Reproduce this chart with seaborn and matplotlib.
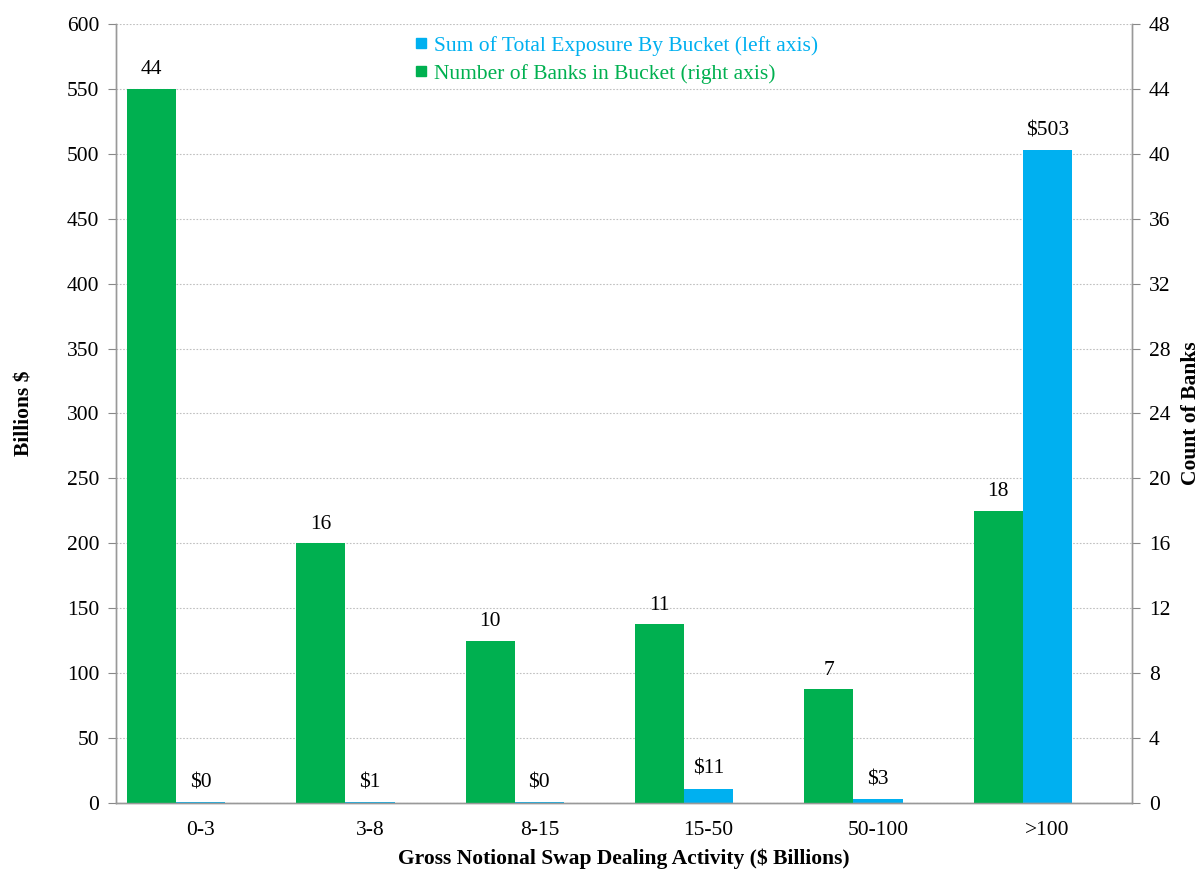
import numpy as np
import pandas as pd
import seaborn as sns
import matplotlib
matplotlib.use("Agg")
import matplotlib.pyplot as plt
from matplotlib.lines import Line2D

# data
buckets = ["0-3", "3-8", "8-15", "15-50", "50-100", ">100"]
exposure = [0.4, 0.7, 0.4, 11, 3, 503]          # $ billions, left axis
exposure_labels = ["$0", "$1", "$0", "$11", "$3", "$503"]
banks = [44, 16, 10, 11, 7, 18]                  # count, right axis

green = "#00B050"
blue = "#00B0F0"
series_order = ["banks", "exposure", "blank"]   # blank slot mimics the Excel layout
palette = {"banks": green, "exposure": blue, "blank": "white"}

sns.set_style("white")
plt.rcParams['font.family'] = ['Liberation Serif', 'DejaVu Serif']
plt.rcParams['font.size'] = 15.5
for k in ("text.color", "axes.labelcolor", "xtick.color", "ytick.color"):
    plt.rcParams[k] = "black"

fs = 15.5

fig = plt.figure(figsize=(12.02, 8.69), dpi=100)
ax1 = fig.add_axes([0.0965, 0.076, 0.8453, 0.8964])
ax2 = ax1.twinx()

df_exp = pd.DataFrame({"Bucket": buckets, "Series": "exposure", "Value": exposure})
df_banks = pd.DataFrame({"Bucket": buckets, "Series": "banks", "Value": banks})

common = dict(x="Bucket", y="Value", hue="Series", hue_order=series_order, order=buckets,
              palette=palette, width=0.87, gap=0, dodge=True, legend=False,
              saturation=1, errorbar=None, linewidth=0)
sns.barplot(data=df_exp, ax=ax1, **common)
sns.barplot(data=df_banks, ax=ax2, **common)


def full_container(ax):
    for c in ax.containers:
        if len(c) == len(buckets) and all(p is not None for p in c):
            return c


ax1.bar_label(full_container(ax1), labels=exposure_labels, padding=7, fontsize=fs)
ax2.bar_label(full_container(ax2), labels=[str(b) for b in banks], padding=7, fontsize=fs)

# axes
ax1.set_ylim(0, 600)
ax1.set_yticks(np.arange(0, 601, 50))
ax2.set_ylim(0, 48)
ax2.set_yticks(np.arange(0, 49, 4))
ax1.set_xlim(-0.5, 5.5)

ax1.yaxis.grid(True, color="#c0c0c0", linestyle=(0, (1.5, 1.5)), linewidth=0.8)
ax1.set_axisbelow(True)

ax1.set_xticks(range(len(buckets)))
ax1.set_xticklabels(buckets)
ax1.set_xticks(np.arange(-0.5, 6, 1), minor=True)
ax1.tick_params(axis="x", which="major", length=0, pad=13, labelsize=fs)
ax1.tick_params(axis="x", which="minor", length=5, color="#888888", width=1)
ax1.tick_params(axis="y", length=6, color="#888888", labelsize=fs, pad=6)
ax2.tick_params(axis="y", length=6, color="#888888", labelsize=fs, pad=6)

for ax in (ax1, ax2):
    for side in ("left", "right", "bottom"):
        ax.spines[side].set_color("#999999")
        ax.spines[side].set_linewidth(1)
    ax.spines["top"].set_visible(False)

ax1.set_xlabel("Gross Notional Swap Dealing Activity ($ Billions)", fontweight="bold",
               fontsize=fs, labelpad=6)
ax1.set_ylabel("Billions $", fontweight="bold", fontsize=fs, labelpad=23)
ax2.set_ylabel("Count of Banks", fontweight="bold", fontsize=fs, labelpad=8)

handles = [Line2D([], [], marker="s", linestyle="none", color=blue, markersize=7),
           Line2D([], [], marker="s", linestyle="none", color=green, markersize=7)]
leg = ax2.legend(handles, ["Sum of Total Exposure By Bucket (left axis)",
                           "Number of Banks in Bucket (right axis)"],
                 loc="upper center", bbox_to_anchor=(0.49, 1.01), frameon=False,
                 handletextpad=0.1, handlelength=1.0, labelspacing=0.38, fontsize=fs)
for txt, col in zip(leg.get_texts(), [blue, green]):
    txt.set_color(col)

fig.savefig("out.png", dpi=100)
